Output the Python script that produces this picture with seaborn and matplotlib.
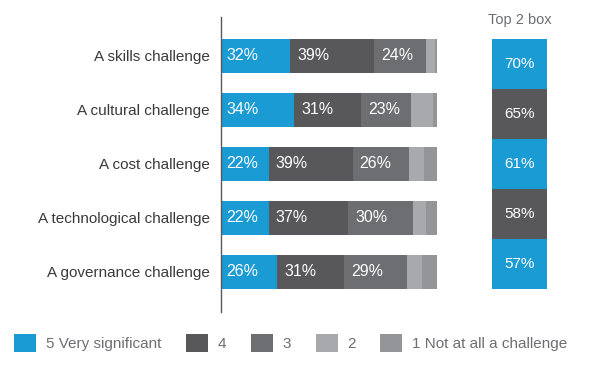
import matplotlib
matplotlib.use("Agg")
import matplotlib.pyplot as plt
import seaborn as sns
import numpy as np
import pandas as pd
from matplotlib.patches import Patch

categories = ["A skills challenge", "A cultural challenge", "A cost challenge",
              "A technological challenge", "A governance challenge"]
levels = ["5 Very significant", "4", "3", "2", "1 Not at all a challenge"]
v5 = [32, 34, 22, 22, 26]
v4 = [39, 31, 39, 37, 31]
v3 = [24, 23, 26, 30, 29]
v2 = [4, 10, 7, 6, 7]
v1 = [1, 2, 6, 5, 7]
top2 = [70, 65, 61, 58, 57]
top2_labels = ["70%", "65%", "61%", "58%", "57%"]

colors = ["#1a9bd4", "#58585a", "#6d6e71", "#a8a9ac", "#939598"]
top2_colors = ["#1a9bd4", "#58585a", "#1a9bd4", "#58585a", "#1a9bd4"]

sns.set_theme(style="white")
plt.rcParams["font.family"] = ["Liberation Sans", "DejaVu Sans"]

W, H = 602, 368
fig = plt.figure(figsize=(W / 100, H / 100), dpi=100)

# main axes
ax_left, ax_right = 221, 438
ax_top, ax_bot = 17, 312
ax = fig.add_axes([ax_left / W, 1 - ax_bot / H, (ax_right - ax_left) / W, (ax_bot - ax_top) / H])

series = [v5, v4, v3, v2, v1]
cum = np.cumsum(np.array(series), axis=0)
df_base = pd.DataFrame({"cat": categories})
for k in range(len(series) - 1, -1, -1):
    d = df_base.copy()
    d["val"] = cum[k]
    sns.barplot(data=d, x="val", y="cat", color=colors[k], width=0.63,
                orient="h", ax=ax, saturation=1, linewidth=0)

# value labels for first three segments
starts = np.vstack([np.zeros(len(categories)), cum[:-1]])
for k in range(3):
    for i, v in enumerate(series[k]):
        off = 2.3 if k == 0 else 3.2
        ax.text(starts[k][i] + off, i, f"{v}%", va="center", ha="left",
                color="white", fontsize=11.5)

ax.set_xlim(0, 100 * (ax_right - ax_left) / 216)
y0 = (ax_top - 56) / 54
y1 = (ax_bot - 56) / 54
ax.set_ylim(y1, y0)
ax.set_xlabel("")
ax.set_ylabel("")
ax.set_xticks([])
ax.tick_params(axis="y", length=0, pad=8, labelsize=11, labelcolor="#3a3a3c")
for s in ["top", "right", "bottom"]:
    ax.spines[s].set_visible(False)
ax.spines["left"].set_color("#58585a")
ax.spines["left"].set_linewidth(1.0)

# Top 2 box axes
bx_l, bx_r, bx_t, bx_b = 492, 547, 39, 289
ax2 = fig.add_axes([bx_l / W, 1 - bx_b / H, (bx_r - bx_l) / W, (bx_b - bx_t) / H])
d2 = pd.DataFrame({"cat": categories, "val": [1] * 5})
sns.barplot(data=d2, x="val", y="cat", hue="cat", palette=top2_colors, width=1.0,
            orient="h", ax=ax2, saturation=1, linewidth=0, legend=False)
ax2.set_xlim(0, 1)
ax2.set_ylim(4.5, -0.5)
for i, t in enumerate(top2_labels):
    ax2.text(0.5, i, t, ha="center", va="center", color="white", fontsize=11)
ax2.axis("off")
fig.text(520 / W, 1 - 20 / H, "Top 2 box", ha="center", va="center",
         color="#6d6e71", fontsize=10.5)

# Legend
handles = [Patch(facecolor=c, edgecolor="none", label=l) for c, l in zip(colors, levels)]
leg = fig.legend(handles=handles, loc="center left", bbox_to_anchor=(0.0, 1 - 343 / H),
                 ncol=5, frameon=False, fontsize=11, handlelength=1.44, handleheight=1.44,
                 handletextpad=0.65, columnspacing=1.6, labelcolor="#6d6e71",
                 borderaxespad=0.0, borderpad=0.0)
fig.canvas.draw()
bb = leg.get_window_extent()
# shift so the first square starts at x=14 px
leg.set_bbox_to_anchor((0.0 + (14 - bb.x0) / W, 1 - 343 / H), transform=fig.transFigure)

fig.savefig("out.png", dpi=100)
